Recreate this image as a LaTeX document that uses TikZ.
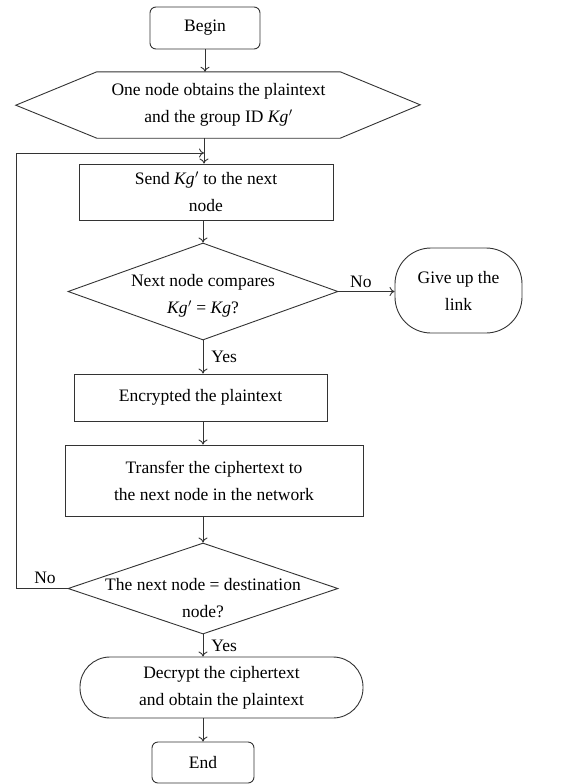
\documentclass[tikz,border=0pt]{standalone}
\usepackage{fontspec}
\setmainfont{Liberation Serif}
\usetikzlibrary{shapes.geometric,arrows.meta}
\definecolor{ink}{HTML}{333333}
\newcommand{\kgp}{\textit{Kg}\kern0.5pt$^{\prime}$}
\tikzset{
  base/.style={draw=ink, line width=0.9pt, inner sep=0pt, align=center,
    font=\fontsize{17.5}{27}\selectfont, text=black},
  termbox/.style={base, rectangle, rounded corners=6pt},
  procbox/.style={base, rectangle},
  decision/.style={base, diamond},
  roundbox/.style={base, rectangle, rounded corners=28pt},
  txt/.style={align=center, inner sep=0pt, font=\fontsize{17.5}{27}\selectfont},
  lbl/.style={inner sep=0pt, font=\fontsize{17.5}{19}\selectfont},
  arr/.style={draw=ink, line width=0.9pt, -{To[length=5pt,width=9pt]}},
}
\begin{document}
\begin{tikzpicture}[x=1pt,y=1pt]
\useasboundingbox (0,0) rectangle (567,-784);

\node[termbox, minimum width=110pt, minimum height=42pt] (begin) at (205,-28) {Begin};

% hexagon: invisible node for the text, outline drawn from its corners
\node[txt, minimum width=243pt, minimum height=66pt] (hex) at (218.5,-105)
  {One node obtains the plaintext\\and the group ID \kgp};
\draw[draw=ink, line width=0.9pt] (hex.north west) -- (hex.north east) -- ++(80,-33)
  -- (hex.south east) -- (hex.south west) -- ++(-81,33) -- cycle;

\node[procbox, minimum width=254pt, minimum height=56pt] (send) at (206,-192)
  {Send \kgp\ to the next\\node};

\node[decision, minimum width=270pt, minimum height=97pt] (d1) at (203,-291.5) {};
\node[txt] (d1t) at (203,-296) {Next node compares\\\kgp\ = \textit{Kg}?};

\node[roundbox, rounded corners=36pt, minimum width=127pt, minimum height=85pt] (give) at (458.5,-290.5)
  {Give up the\\link};

\node[procbox, minimum width=253pt, minimum height=47pt] (enc) at (200.5,-397.5)
  {Encrypted the plaintext};

\node[procbox, minimum width=298pt, minimum height=71pt] (trans) at (214,-480.5)
  {Transfer the ciphertext to\\the next node in the network};

\node[decision, minimum width=270pt, minimum height=91pt] (d2) at (203,-588.5) {};
\node[txt] (d2t) at (203,-598) {The next node = destination\\node?};

\node[roundbox, rounded corners=30pt, minimum width=283pt, minimum height=61pt] (dec) at (221.5,-687.5)
  {Decrypt the ciphertext\\and obtain the plaintext};

\node[termbox, minimum width=102pt, minimum height=41pt] (end) at (203,-762.5) {End};

\coordinate (join) at (204,-153);
\coordinate (loop) at (16,-153);

% connectors
\draw[arr] (begin.south) -- (begin.south |- hex.north);
\draw[arr] (hex.south -| join) -- (send.north -| join);
\draw[arr] (send.south -| d1.north) -- (d1.north);
\draw[arr] (d1.east) -- (give.west |- d1.east) node[lbl, pos=0.4, above=3pt] {No};
\draw[arr] (d1.south) -- (enc.north -| d1.south) node[lbl, midway, right=8pt] {Yes};
\draw[arr] (enc.south -| d2.north) -- (trans.north -| d2.north);
\draw[arr] (trans.south -| d2.north) -- (d2.north);
\draw[arr] (d2.west) -| (loop) -- (join);
\node[lbl] (no2) at (45,-578) {No};
\draw[arr] (d2.south) -- (dec.north -| d2.south) node[lbl, midway, right=8pt] {Yes};
\draw[arr] (dec.south -| end.north) -- (end.north);
\end{tikzpicture}
\end{document}
